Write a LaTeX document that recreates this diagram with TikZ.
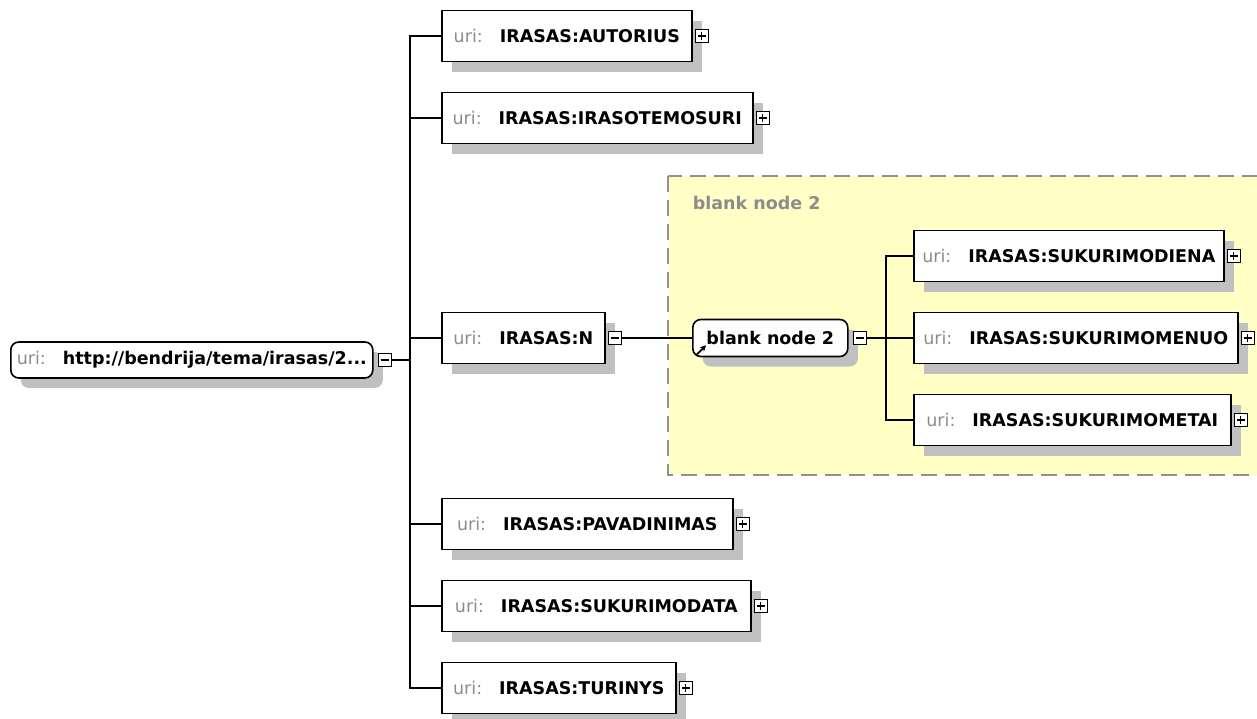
\documentclass[tikz,border=0pt]{standalone}
\usepackage{fontspec}
\setmainfont{DejaVu Sans}
\usetikzlibrary{positioning, shadows, arrows.meta}

\definecolor{urigray}{HTML}{8C8C8C}
\definecolor{shade}{HTML}{C0C0C0}
\definecolor{groupfill}{HTML}{FFFFC6}
\definecolor{groupline}{HTML}{909090}

\newcommand{\diagfont}{\fontsize{17.5pt}{20pt}\selectfont}
\newcommand{\urilabel}[1]{{\color{urigray}\mdseries uri:}\hspace{17pt}#1}

\tikzset{
  prop/.style={draw, line width=1.6pt, fill=white, anchor=west, minimum height=51pt,
    inner xsep=8pt, font=\diagfont\bfseries,
    general shadow={fill=shade, shadow xshift=10pt, shadow yshift=-10pt}},
  resource/.style={prop, rounded corners=8pt, minimum height=36pt},
  expander/.style={draw, line width=1.2pt, fill=white, minimum size=13pt, inner sep=0pt},
  plusbox/.style={expander, path picture={
    \draw[line width=1.3pt] ([xshift=-4pt]path picture bounding box.center) -- ([xshift=4pt]path picture bounding box.center);
    \draw[line width=1.3pt] ([yshift=-4pt]path picture bounding box.center) -- ([yshift=4pt]path picture bounding box.center);}},
  minusbox/.style={expander, path picture={
    \draw[line width=1.3pt] ([xshift=-4pt]path picture bounding box.center) -- ([xshift=4pt]path picture bounding box.center);}},
  group/.style={fill=groupfill, draw=groupline, line width=1.5pt, dash pattern=on 16pt off 8pt},
}

\begin{document}
\begin{tikzpicture}[x=1pt, y=-1pt, line width=1.5pt]
    \useasboundingbox (0,0) rectangle (1257,718);

    % blank node group
    \draw[group] (668,176) rectangle (1264,475);
    \node[anchor=west, text=urigray, font=\diagfont\bfseries, inner sep=0pt] (grouplabel) at (692,203) {blank node 2};

    % root resource
    \node[resource, minimum width=362pt, inner xsep=4pt] (root) at (10,360) {\urilabel{http://bendrija/tema/irasas/2...}};
    \node[minusbox, right=4pt of root] (root-x) {};

    % properties
    \node[prop, minimum width=250pt] (autorius) at (441,36) {\urilabel{IRASAS:AUTORIUS}};
    \node[plusbox, right=2pt of autorius] (autorius-x) {};
    \node[prop, minimum width=311pt] (irasotemosuri) at (441,118) {\urilabel{IRASAS:IRASOTEMOSURI}};
    \node[plusbox, right=2pt of irasotemosuri] (irasotemosuri-x) {};
    \node[prop, minimum width=163pt] (n) at (441,338) {\urilabel{IRASAS:N}};
    \node[minusbox, right=2pt of n] (n-x) {};
    \node[prop, minimum width=291pt] (pavadinimas) at (441,524) {\urilabel{IRASAS:PAVADINIMAS}};
    \node[plusbox, right=2pt of pavadinimas] (pavadinimas-x) {};
    \node[prop, minimum width=309pt] (sukurimodata) at (441,606) {\urilabel{IRASAS:SUKURIMODATA}};
    \node[plusbox, right=2pt of sukurimodata] (sukurimodata-x) {};
    \node[prop, minimum width=234pt] (turinys) at (441,688) {\urilabel{IRASAS:TURINYS}};
    \node[plusbox, right=2pt of turinys] (turinys-x) {};

    % blank node and its properties
    \node[resource, minimum width=155pt, minimum height=37pt] (bnode) at (692,338) {blank node 2};
    \node[minusbox, right=4pt of bnode] (bnode-x) {};
    \draw[-{Stealth[length=6pt,width=6pt]}, line width=1.8pt] ([shift={(4,-2)}]bnode.south west) -- ++(10,-10);

    \node[prop, minimum width=310pt] (diena) at (913,256) {\urilabel{IRASAS:SUKURIMODIENA}};
    \node[plusbox, right=2pt of diena] (diena-x) {};
    \node[prop, minimum width=324pt] (menuo) at (913,338) {\urilabel{IRASAS:SUKURIMOMENUO}};
    \node[plusbox, right=2pt of menuo] (menuo-x) {};
    \node[prop, minimum width=317pt] (metai) at (913,420) {\urilabel{IRASAS:SUKURIMOMETAI}};
    \node[plusbox, right=2pt of metai] (metai-x) {};

    % connectors
    \coordinate (trunk) at (410,360);
    \draw (root-x) -- (trunk);
    \draw (trunk) |- (autorius.west);
    \draw (trunk) |- (irasotemosuri.west);
    \draw (trunk) |- (n.west);
    \draw (trunk) |- (pavadinimas.west);
    \draw (trunk) |- (sukurimodata.west);
    \draw (trunk) |- (turinys.west);

    \draw (n-x) -- (bnode);

    \coordinate (btrunk) at (886,338);
    \draw (bnode-x) -- (btrunk);
    \draw (btrunk) |- (diena.west);
    \draw (btrunk) |- (menuo.west);
    \draw (btrunk) |- (metai.west);
\end{tikzpicture}
\end{document}
